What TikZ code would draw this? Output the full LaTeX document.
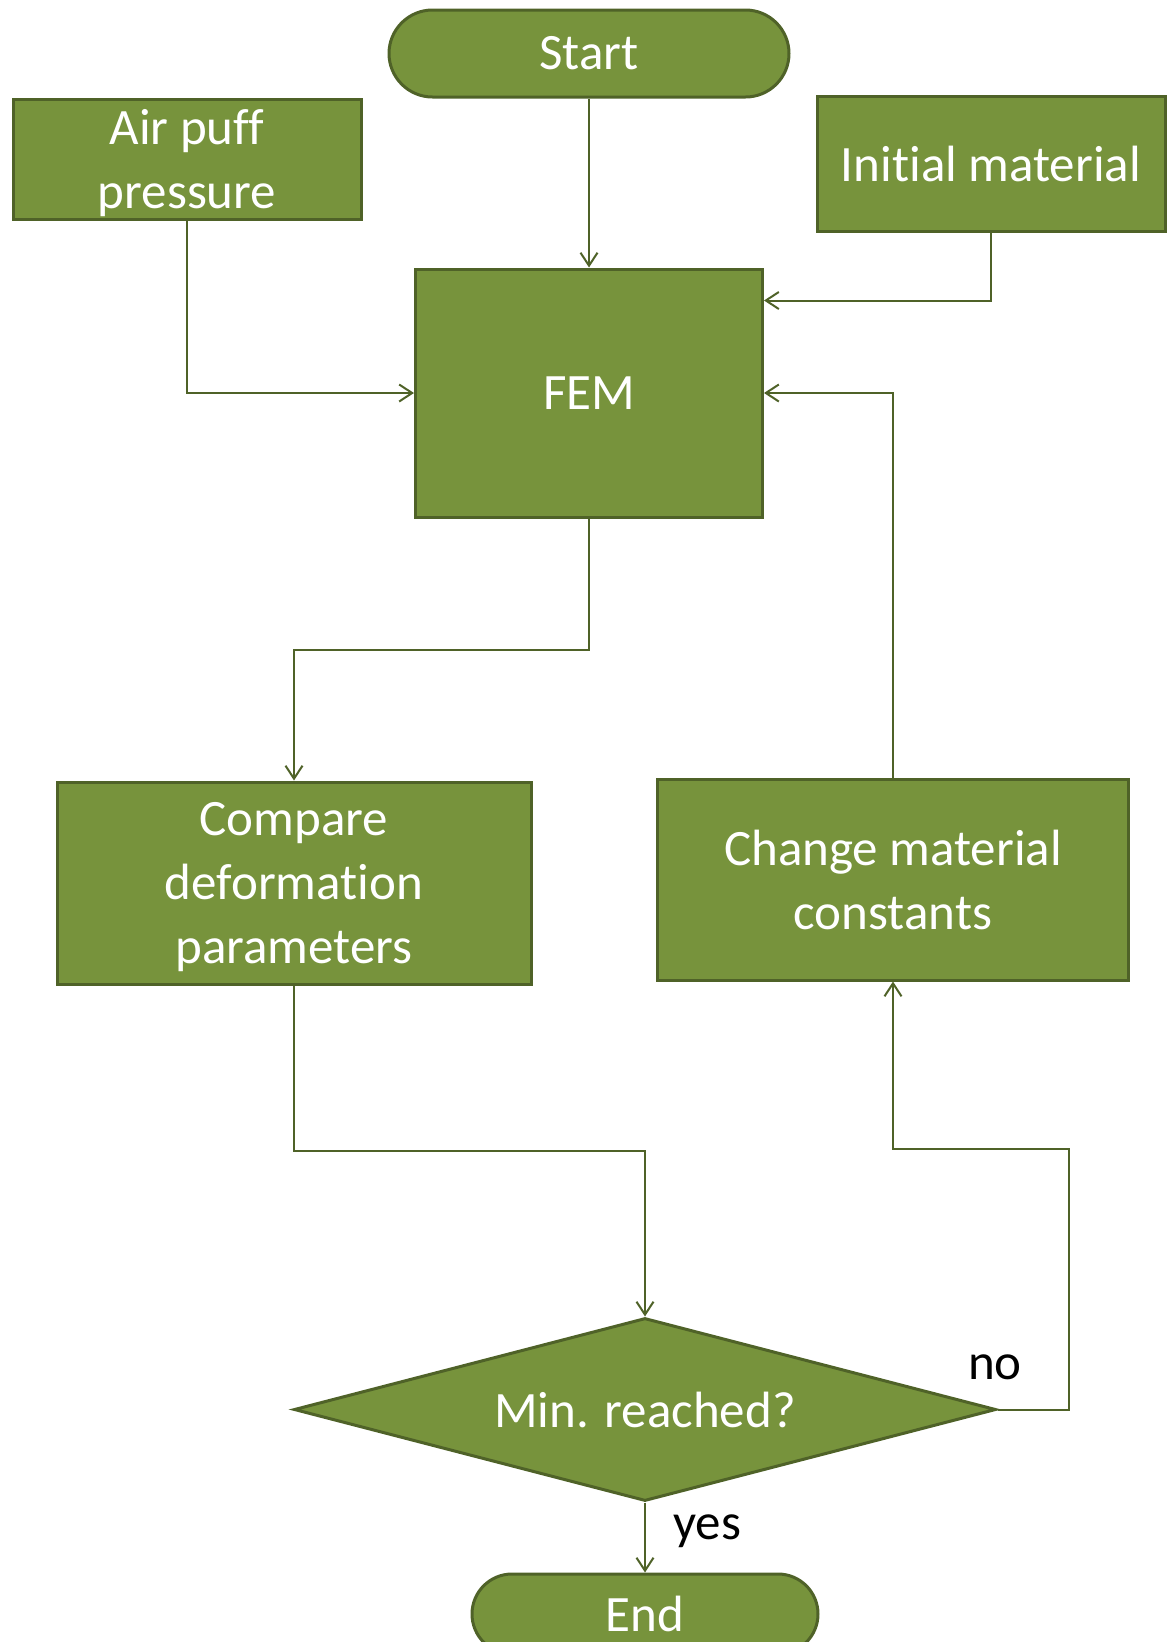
\documentclass[tikz,border=0pt]{standalone}
\usepackage{fontspec}
\setmainfont{Carlito}[Ligatures=NoCommon]
\usetikzlibrary{shapes.misc,shapes.geometric,arrows.meta}
\definecolor{boxfill}{HTML}{77933C}
\definecolor{boxline}{HTML}{4F6228}
\tikzset{
  box/.style={draw=boxline, line width=3pt, fill=boxfill, text=white, align=center,
    inner sep=0pt, font=\fontsize{51}{64}\selectfont},
  term/.style={box, rounded rectangle},
  decision/.style={box, diamond},
  conn/.style={draw=boxline, line width=2pt, -{Straight Barb[length=13pt,width=17pt,line width=2pt]}},
  lbl/.style={text=black, inner sep=0pt, font=\fontsize{51}{64}\selectfont},
  wtext/.style={text=white, inner sep=0pt, font=\fontsize{51}{64}\selectfont}
}
\begin{document}
\begin{tikzpicture}[x=1pt,y=-1pt]
\useasboundingbox (0,0) rectangle (1171,1642);
\clip (0,0) rectangle (1171,1642);
\node[term, minimum width=400pt, minimum height=87pt] (start) at (589,53.5) {Start};
\node[box, minimum width=348pt, minimum height=120pt] (air) at (187,159) {};
\node[wtext, align=center] (airtext) at ([yshift=-4pt]air.center) {Air puff\\pressure};
\node[box, minimum width=348pt, minimum height=135pt] (init) at (991,163.5) {Initial material};
\node[box, minimum width=347pt, minimum height=248pt] (fem) at (589,393) {FEM};
\node[box, minimum width=474pt, minimum height=202pt] (cmp) at (294,883) {};
\node[wtext, align=center] (cmptext) at ([yshift=-4pt]cmp.center) {Compare\\deformation\\parameters};
\node[box, minimum width=471pt, minimum height=201pt] (chg) at (893,879.5) {Change material\\constants};
\node[decision, minimum width=702pt, minimum height=183pt] (dia) at (645,1409.5) {};
\node[wtext] (diatext) at (dia.center) {Min. reached?};
\node[term, minimum width=346pt, minimum height=80pt] (end) at (645,1614) {End};
\node[lbl] (no) at (995,1367) {no};
\node[lbl] (yes) at (707,1531) {yes};
\coordinate (nr) at (1069,1149);
\draw[conn] (start.south) -- (fem.north);
\draw[conn] (air.south) |- (fem.west);
\draw[conn] (init.south) |- ([yshift=-33pt]fem.north east);
\draw[conn] (chg.north) |- (fem.east);
\draw[conn] (fem.south) -- ++(0,131) -| (cmp.north);
\draw[conn] (cmp.south) -- ++(0,165) -| (dia.north);
\draw[conn] (dia.east) -| (nr) -| (chg.south);
\draw[conn] (dia.south) -- (end.north);
\end{tikzpicture}
\end{document}
